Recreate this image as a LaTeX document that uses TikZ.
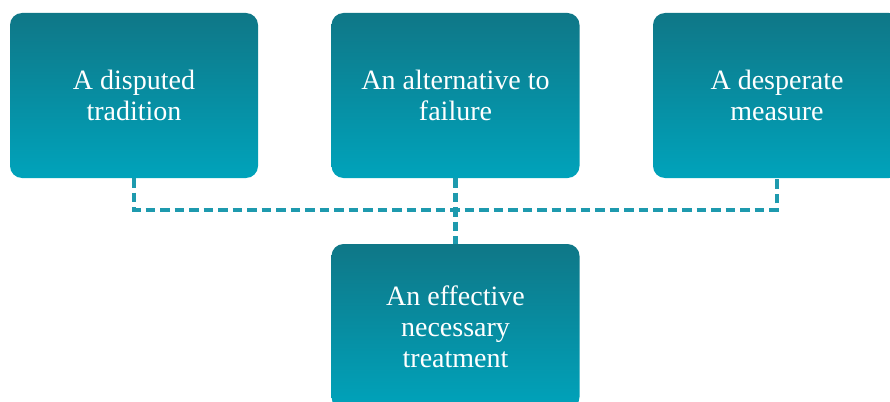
\documentclass[tikz,border=0pt]{standalone}
\usepackage{fontspec}
\setmainfont{Liberation Serif}
\definecolor{boxtop}{HTML}{0F7787}
\definecolor{boxbot}{HTML}{00A3BB}
\definecolor{dashc}{HTML}{1E9AAE}
\begin{document}
\begin{tikzpicture}[x=1pt,y=-1pt,
  box/.style={rectangle, rounded corners=12pt, minimum width=248pt, minimum height=165pt,
    top color=boxtop, bottom color=boxbot, draw=none, text=white, align=center,
    font=\fontsize{28}{31}\selectfont, inner sep=0pt},
  link/.style={draw=dashc, line width=4.2pt, dash pattern=on 9.5pt off 5pt}]
\useasboundingbox (0,0) rectangle (890,401);
\clip (0,0) rectangle (890,401);
\node[box] (a) at (134,95.5) {A disputed\\tradition};
\node[box] (b) at (455.5,95.5) {An alternative to\\failure};
\node[box] (c) at (777,95.5) {A desperate\\measure};
\node[box] (d) at (455.5,326.5) {An effective\\necessary\\treatment};
\coordinate (j) at (455.5,210);
\draw[link] (a.south) |- (j) -| (c.south);
\draw[link] (b.south) -- (d.north);
\end{tikzpicture}
\end{document}
